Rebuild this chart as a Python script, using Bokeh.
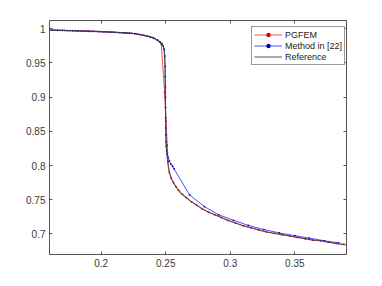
from bokeh.plotting import figure
from bokeh.models import LinearAxis, Range1d, Legend, LegendItem, FixedTicker
from bokeh.embed import file_html
from bokeh.resources import INLINE

# Reference curve
ref_x = [0.160, 0.170, 0.180, 0.190, 0.200, 0.210, 0.220, 0.225, 0.230, 0.235, 0.240, 0.243, 0.245,
         0.247, 0.2480, 0.2488, 0.2492, 0.2495, 0.2497, 0.2499, 0.2502, 0.2506, 0.2512, 0.2520,
         0.2530, 0.2545, 0.2565, 0.2590, 0.2620, 0.2660, 0.2700, 0.2740, 0.2780, 0.2830, 0.2880,
         0.2930, 0.2980, 0.3040, 0.3100, 0.3160, 0.3220, 0.3280, 0.3340, 0.3400, 0.3460, 0.3520,
         0.3580, 0.3640, 0.3700, 0.3760, 0.3820, 0.3900]
ref_y = [0.9980, 0.9975, 0.9970, 0.9964, 0.9957, 0.9948, 0.9937, 0.9930, 0.9915, 0.9895, 0.9870, 0.9840, 0.9810,
         0.9780, 0.9750, 0.9680, 0.9550, 0.9300, 0.9000, 0.8700, 0.8450, 0.8250, 0.8100, 0.7980,
         0.7890, 0.7810, 0.7730, 0.7660, 0.7590, 0.7530, 0.7470, 0.7420, 0.7370, 0.7320, 0.7280,
         0.7240, 0.7200, 0.7160, 0.7120, 0.7090, 0.7060, 0.7030, 0.7010, 0.6990, 0.6970, 0.6950,
         0.6930, 0.6910, 0.6900, 0.6880, 0.6860, 0.6840]

# PGFEM
pg_x = [0.160, 0.164, 0.168, 0.172, 0.176, 0.180, 0.184, 0.188, 0.192, 0.196, 0.200, 0.204, 0.208,
        0.212, 0.216, 0.220, 0.224, 0.228, 0.232, 0.236, 0.240, 0.2435, 0.2466, 0.2491, 0.2503,
        0.2512, 0.2518, 0.2528, 0.2540, 0.2560, 0.2580, 0.2600, 0.2630, 0.2660, 0.2700, 0.2740,
        0.2780, 0.2830, 0.2880, 0.2930, 0.2980, 0.3040, 0.3100, 0.3160, 0.3220, 0.3280, 0.3340,
        0.3400, 0.3460, 0.3520, 0.3580, 0.3640, 0.3700, 0.3760, 0.3820, 0.3880]
pg_y = [0.9980, 0.9978, 0.9976, 0.9974, 0.9972, 0.9970, 0.9967, 0.9965, 0.9962, 0.9960, 0.9957, 0.9954, 0.9950,
        0.9946, 0.9941, 0.9937, 0.9932, 0.9922, 0.9908, 0.9890, 0.9870, 0.9835, 0.9770, 0.9070, 0.8650,
        0.8300, 0.8050, 0.7900, 0.7820, 0.7750, 0.7690, 0.7640, 0.7580, 0.7530, 0.7470, 0.7420,
        0.7370, 0.7320, 0.7280, 0.7240, 0.7200, 0.7160, 0.7120, 0.7090, 0.7060, 0.7030, 0.7010,
        0.6990, 0.6970, 0.6950, 0.6930, 0.6910, 0.6900, 0.6880, 0.6860, 0.6850]

# Method in [22]
md_x = [0.162, 0.166, 0.170, 0.174, 0.178, 0.182, 0.186, 0.190, 0.194, 0.198, 0.202, 0.206, 0.210,
        0.214, 0.218, 0.222, 0.226, 0.230, 0.234, 0.238, 0.241, 0.2435, 0.2455, 0.2470, 0.2480,
        0.2488, 0.2493, 0.2496, 0.2497, 0.2498, 0.2498, 0.2499, 0.2499, 0.2500, 0.2501, 0.2502,
        0.2504, 0.2507, 0.2511, 0.2518, 0.2528, 0.2540, 0.2553, 0.2565, 0.2685, 0.2800, 0.2910,
        0.3025, 0.3140, 0.3260, 0.3380, 0.3500, 0.3610, 0.3730, 0.3840]
md_y = [0.9979, 0.9977, 0.9975, 0.9973, 0.9971, 0.9968, 0.9966, 0.9963, 0.9961, 0.9958, 0.9955, 0.9951, 0.9948,
        0.9944, 0.9939, 0.9935, 0.9928, 0.9915, 0.9900, 0.9880, 0.9860, 0.9835, 0.9810, 0.9785, 0.9750,
        0.9700, 0.9600, 0.9450, 0.9300, 0.9150, 0.9000, 0.8850, 0.8700, 0.8550, 0.8450, 0.8350,
        0.8280, 0.8220, 0.8170, 0.8120, 0.8070, 0.8020, 0.7990, 0.7950, 0.7570, 0.7400, 0.7280,
        0.7200, 0.7125, 0.7065, 0.7015, 0.6975, 0.6940, 0.6900, 0.6870]

x_ticks = [0.2, 0.25, 0.3, 0.35]
y_ticks = [0.7, 0.75, 0.8, 0.85, 0.9, 0.95, 1.0]
x_tick_labels = {0.2: "0.2", 0.25: "0.25", 0.3: "0.3", 0.35: "0.35"}
y_tick_labels = {0.7: "0.7", 0.75: "0.75", 0.8: "0.8", 0.85: "0.85", 0.9: "0.9", 0.95: "0.95", 1.0: "1"}

FONT = "Liberation Sans"
AX = "#555555"
TXT = "#3a3a3a"

p = figure(width=374, height=278, output_backend="svg", toolbar_location=None,
           x_range=Range1d(0.16, 0.39), y_range=Range1d(0.67, 1.012),
           min_border_left=49, min_border_right=28, min_border_top=20, min_border_bottom=24)
p.background_fill_color = "white"
p.border_fill_color = "white"
p.grid.visible = False
p.outline_line_color = AX
p.outline_line_width = 1

for ax in (p.xaxis[0], p.yaxis[0]):
    ax.axis_line_color = AX
    ax.major_tick_line_color = AX
    ax.major_tick_in = 3
    ax.major_tick_out = 0
    ax.minor_tick_line_color = None
    ax.major_label_text_font = FONT
    ax.major_label_text_font_size = "10px"
    ax.major_label_text_color = TXT
    ax.major_label_standoff = 4
p.xaxis[0].ticker = FixedTicker(ticks=x_ticks)
p.yaxis[0].ticker = FixedTicker(ticks=y_ticks)
p.xaxis[0].major_label_overrides = x_tick_labels
p.yaxis[0].major_label_overrides = y_tick_labels

top = LinearAxis(ticker=FixedTicker(ticks=x_ticks))
right = LinearAxis(ticker=FixedTicker(ticks=y_ticks))
for ax in (top, right):
    ax.axis_line_color = AX
    ax.major_tick_line_color = AX
    ax.major_tick_in = 3
    ax.major_tick_out = 0
    ax.minor_tick_line_color = None
    ax.major_label_text_color = None
    ax.major_label_text_font_size = "1px"
    ax.major_label_standoff = 0
p.add_layout(top, "above")
p.add_layout(right, "right")

r1 = p.line(pg_x, pg_y, line_color="#ff2020", line_width=0.8)
m1 = p.scatter(pg_x, pg_y, marker="circle", size=1.8, fill_color="#d00000", line_color=None)
r2 = p.line(md_x, md_y, line_color="#2020ff", line_width=0.8)
m2 = p.scatter(md_x, md_y, marker="circle", size=1.8, fill_color="#0000b0", line_color=None)
r3 = p.line(ref_x, ref_y, line_color="#404040", line_width=1.1, line_alpha=0.8)

legend = Legend(items=[LegendItem(label="PGFEM", renderers=[r1, m1]),
                       LegendItem(label="Method in [22]", renderers=[r2, m2]),
                       LegendItem(label="Reference", renderers=[r3])],
                location=(202, 189))
legend.label_text_font = FONT
legend.label_text_font_size = "9px"
legend.label_text_color = "#222222"
legend.glyph_width = 28
legend.glyph_height = 11
legend.label_height = 11
legend.label_standoff = 3
legend.spacing = 0
legend.padding = 2
legend.margin = 0
legend.border_line_color = "#333333"
legend.border_line_width = 1
legend.background_fill_color = "white"
legend.background_fill_alpha = 1
p.add_layout(legend, "center")

open("out.html", "w").write(file_html(p, INLINE))
